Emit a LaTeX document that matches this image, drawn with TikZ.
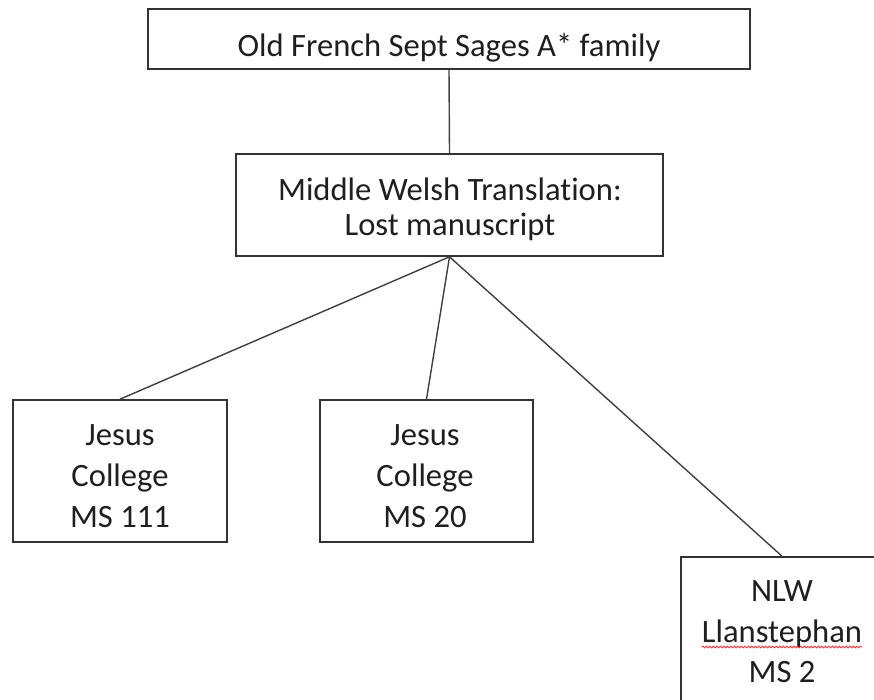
\documentclass[tikz,border=0pt]{standalone}
\usepackage{fontspec}
\setmainfont[Ligatures={NoCommon}]{Carlito}
\usetikzlibrary{decorations.pathmorphing}
\begin{document}
\begin{tikzpicture}[x=1pt,y=-1pt,
  boxshape/.style={draw=black!80,line width=1.6pt,rectangle,inner sep=0pt,fill=white},
  lbl/.style={anchor=base,inner sep=0pt,text=black!88,font=\fontsize{32.6}{41}\selectfont},
  conn/.style={draw=black!75,line width=1.4pt}]
\useasboundingbox[fill=white] (0,0) rectangle (874,700);
% boxes
\node[boxshape,minimum width=602pt,minimum height=60pt] (top) at (449,39) {};
\node[boxshape,minimum width=427pt,minimum height=102pt] (mid) at (449.5,205) {};
\node[boxshape,minimum width=214pt,minimum height=142pt] (lbox) at (120,471) {};
\node[boxshape,minimum width=213pt,minimum height=142pt] (mbox) at (426.5,471) {};
\node[boxshape,minimum width=202pt,minimum height=170pt] (rbox) at (782,642) {};
% connectors
\draw[conn] (top.south) -- (mid.north);
\draw[conn] (mid.south) -- (lbox.north);
\draw[conn] (mid.south) -- (mbox.north);
\draw[conn] (mid.south) -- (rbox.north);
% texts
\node[lbl] (t0) at (449,57) {Old French Sept Sages A* family};
\node[lbl] (t1) at (450,201) {Middle Welsh Translation:};
\node[lbl] (t2) at (450,236) {Lost manuscript};
\node[lbl] (l1) at (120,445) {Jesus};
\node[lbl] (l2) at (120,486) {College};
\node[lbl] (l3) at (120,527) {MS 111};
\node[lbl] (m1) at (425,445) {Jesus};
\node[lbl] (m2) at (425,486) {College};
\node[lbl] (m3) at (425,527) {MS 20};
\node[lbl] (r1) at (782,601) {NLW};
\node[lbl] (r2) at (782,642) {Llanstephan};
\node[lbl] (r3) at (782,682) {MS 2};
\draw[red!80,line width=0.8pt,decorate,decoration={snake,segment length=3.5pt,amplitude=1pt}]
  ([yshift=-5pt]r2.base west) -- ([yshift=-5pt]r2.base east);
\end{tikzpicture}
\end{document}
